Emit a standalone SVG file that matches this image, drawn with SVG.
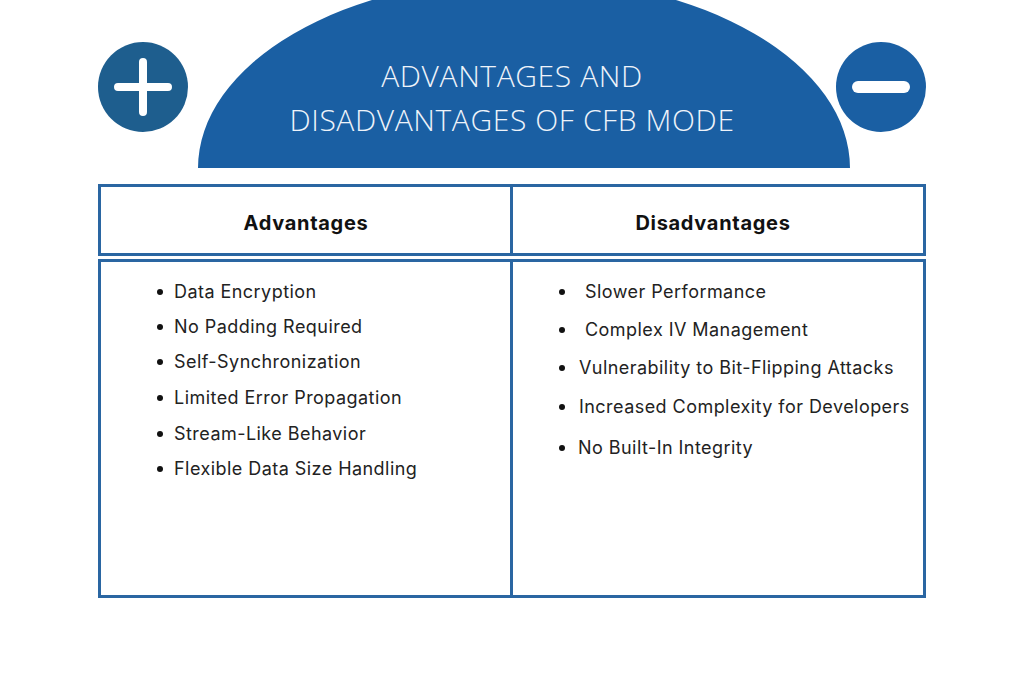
<svg xmlns="http://www.w3.org/2000/svg" width="1024" height="683" viewBox="0 0 1024 683">
<style>
.cell{fill:#fff;stroke:#2a66a2;stroke-width:3}
.hd{font-family:Inter,"Open Sans",sans-serif;font-weight:700;font-size:20px;letter-spacing:0.7px;fill:#111;text-anchor:middle}
.it{font-family:Inter,"Open Sans",sans-serif;font-size:18px;letter-spacing:0.45px;fill:#222}
.title{font-family:"Open Sans",Inter,sans-serif;font-weight:300;font-size:30px;letter-spacing:0.6px;fill:#eef3fa;text-anchor:middle}
</style>
<rect width="1024" height="683" fill="#fff"/>
<g id="banner">
<path d="M198 168 A326 190 0 0 1 850 168 Z" fill="#1a5fa3"/>
<text class="title" x="512" y="87">ADVANTAGES AND</text>
<text class="title" x="512" y="131">DISADVANTAGES OF CFB MODE</text>
</g>
<g id="plus">
<circle cx="143" cy="87" r="45" fill="#1e5e8e"/>
<path d="M143 62V112M118 87H168" stroke="#fff" stroke-width="8" stroke-linecap="round"/>
</g>
<g id="minus">
<circle cx="881" cy="87" r="45" fill="#1a5fa3"/>
<path d="M858 87H904" stroke="#fff" stroke-width="12" stroke-linecap="round"/>
</g>
<g id="adv-header"><rect class="cell" x="99.5" y="185.5" width="412" height="69"/><text class="hd" x="306" y="230">Advantages</text></g>
<g id="dis-header"><rect class="cell" x="511.5" y="185.5" width="413" height="69"/><text class="hd" x="713" y="230">Disadvantages</text></g>
<g id="adv-body"><rect class="cell" x="99.5" y="260.5" width="412" height="336"/>
<g class="it">
<circle cx="160" cy="292" r="3" fill="#111"/><text x="174" y="298">Data Encryption</text>
<circle cx="160" cy="327" r="3" fill="#111"/><text x="174" y="333">No Padding Required</text>
<circle cx="160" cy="362" r="3" fill="#111"/><text x="174" y="368">Self-Synchronization</text>
<circle cx="160" cy="398" r="3" fill="#111"/><text x="174" y="404">Limited Error Propagation</text>
<circle cx="160" cy="434" r="3" fill="#111"/><text x="174" y="440">Stream-Like Behavior</text>
<circle cx="160" cy="469" r="3" fill="#111"/><text x="174" y="475">Flexible Data Size Handling</text>
</g></g>
<g id="dis-body"><rect class="cell" x="511.5" y="260.5" width="413" height="336"/>
<g class="it">
<circle cx="562" cy="292" r="3" fill="#111"/><text x="585" y="298">Slower Performance</text>
<circle cx="562" cy="330" r="3" fill="#111"/><text x="585" y="336">Complex IV Management</text>
<circle cx="562" cy="368" r="3" fill="#111"/><text x="579" y="374">Vulnerability to Bit-Flipping Attacks</text>
<circle cx="562" cy="407" r="3" fill="#111"/><text x="579" y="413">Increased Complexity for Developers</text>
<circle cx="562" cy="448" r="3" fill="#111"/><text x="578" y="454">No Built-In Integrity</text>
</g></g>
</svg>
